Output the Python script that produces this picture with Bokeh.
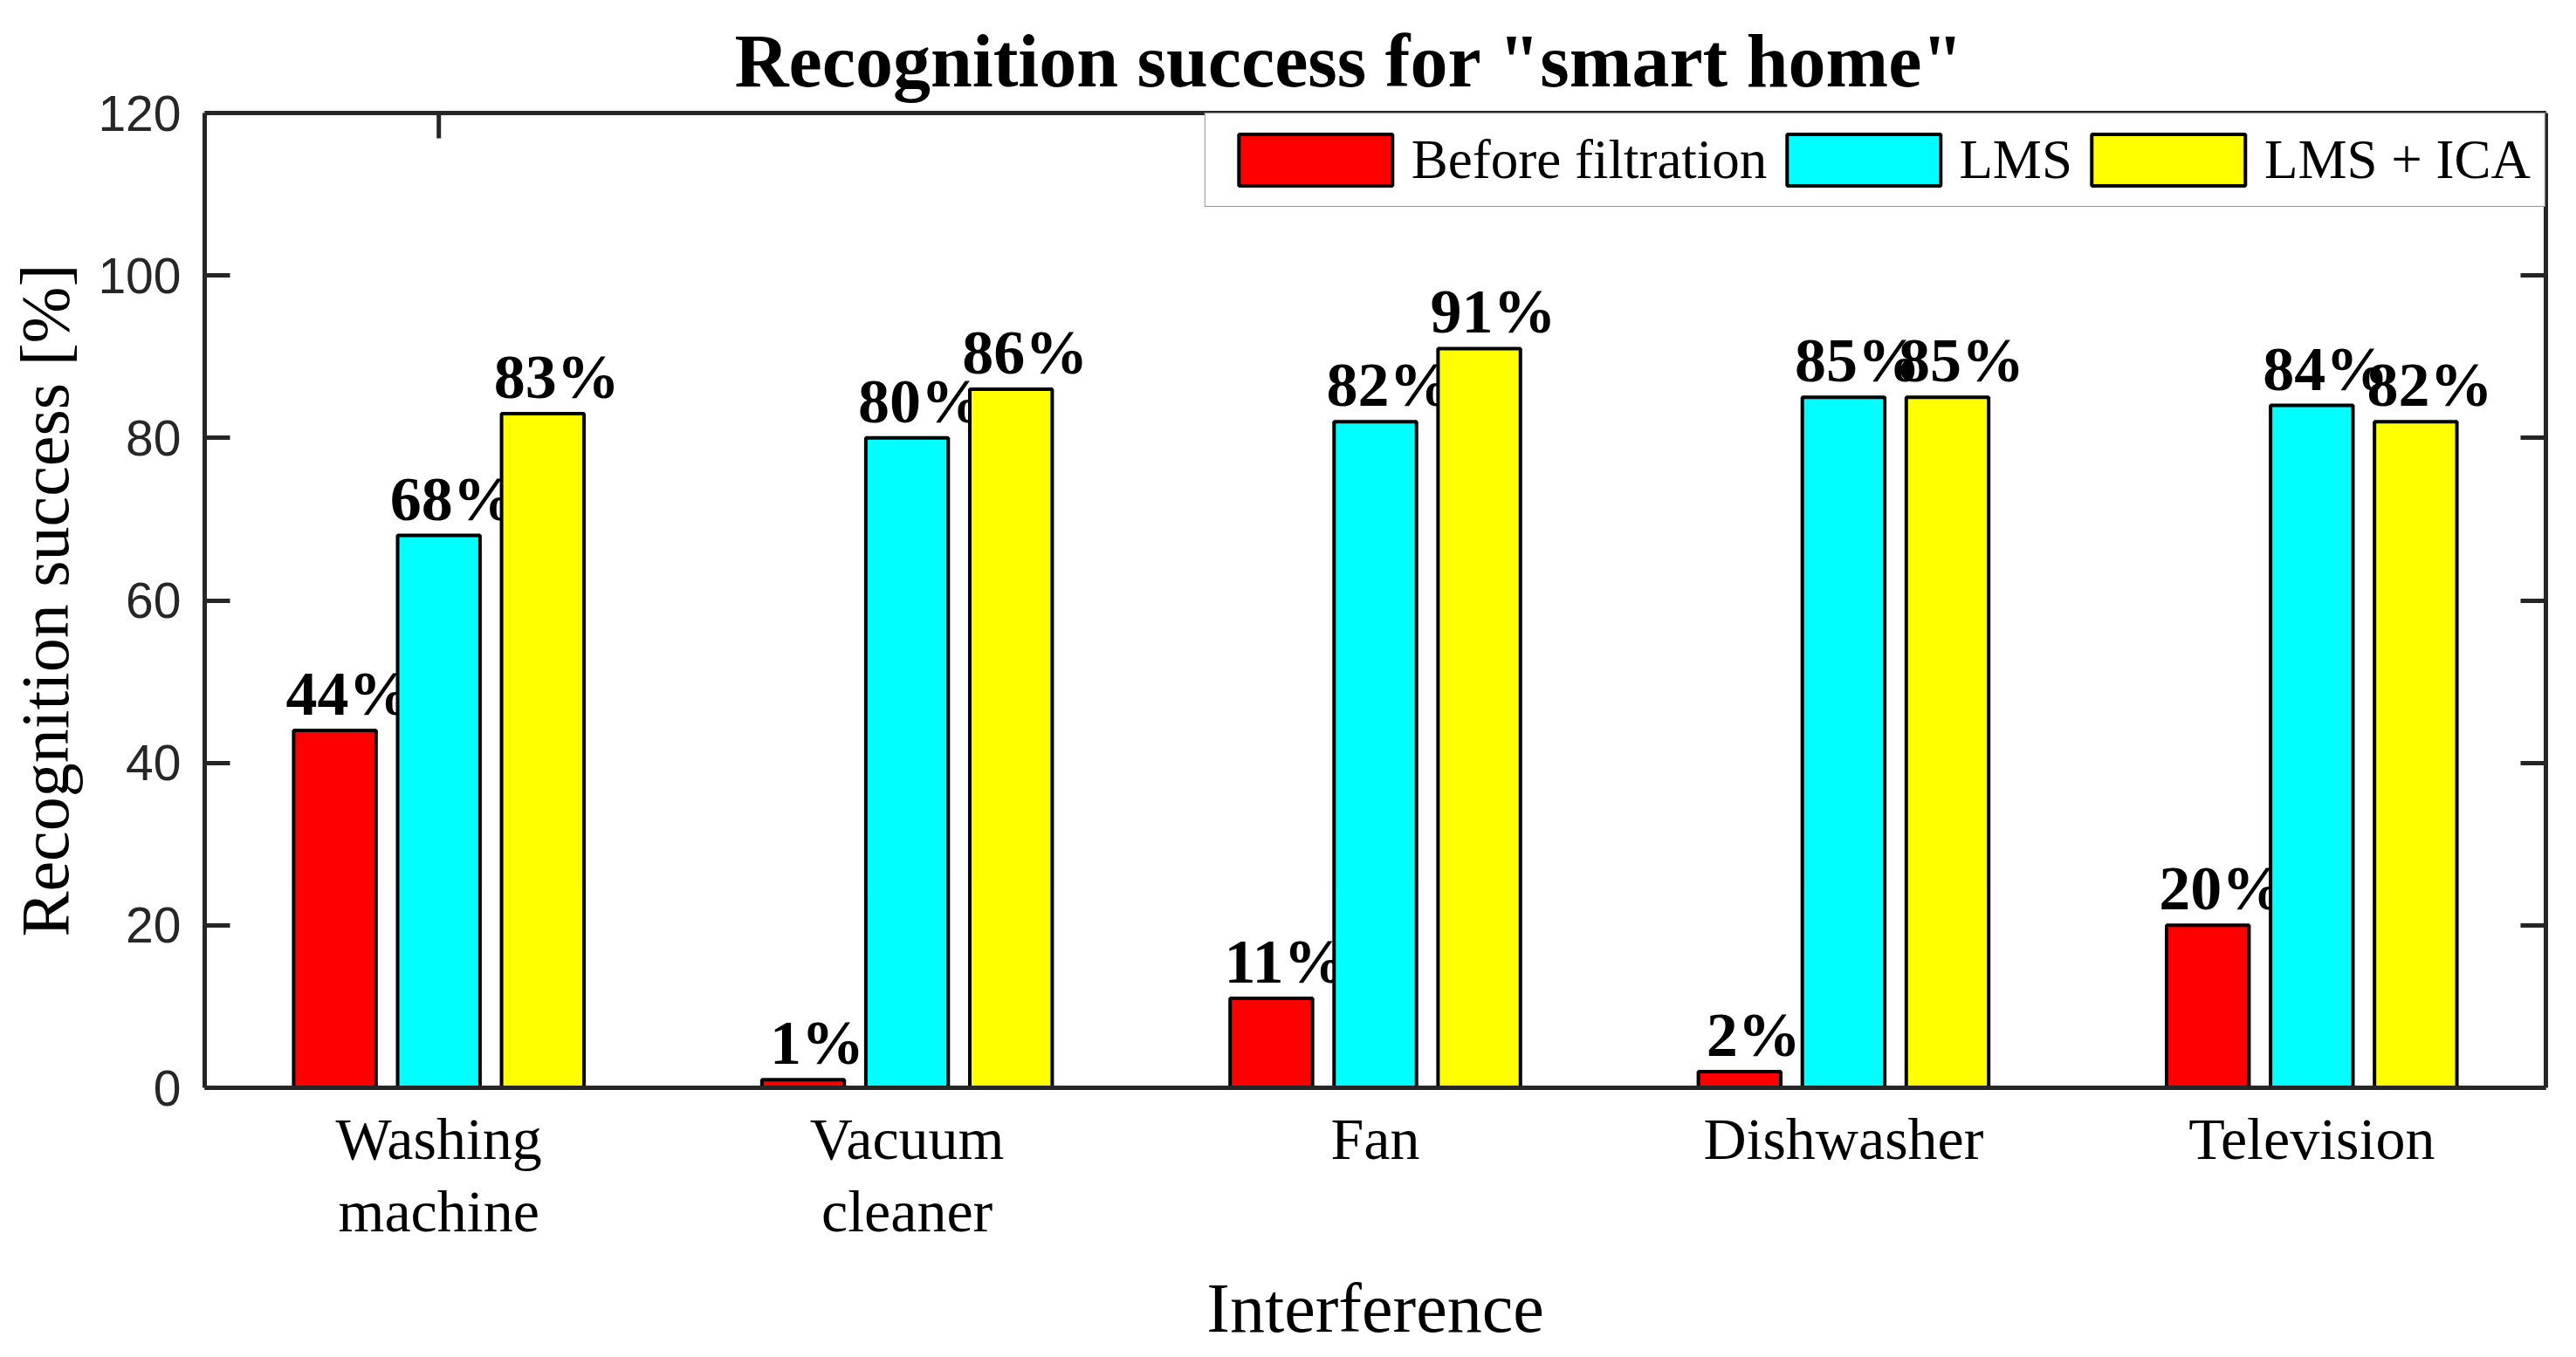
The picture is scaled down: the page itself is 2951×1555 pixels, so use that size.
from bokeh.plotting import figure
from bokeh.models import (ColumnDataSource, FactorRange, Range1d, FixedTicker,
                          LinearAxis, CategoricalAxis, Legend, LegendItem,
                          CustomLabelingPolicy)
from bokeh.transform import dodge
from bokeh.core.properties import value
from bokeh.embed import file_html
from bokeh.resources import INLINE

# ---- data ----
categories = ["Washing\nmachine", "Vacuum\ncleaner", "Fan", "Dishwasher", "Television"]
series_names = ["Before filtration", "LMS", "LMS + ICA"]
before_filtration = [44, 1, 11, 2, 20]
lms = [68, 80, 82, 85, 84]
lms_ica = [83, 86, 91, 85, 82]
y_ticks = [0, 20, 40, 60, 80, 100, 120]
top_tick_categories = [categories[0]]   # categories carrying a tick on the top edge
series_colors = ["#FF0000", "#00FFFF", "#FFFF00"]

series_values = [before_filtration, lms, lms_ica]
offsets = [-0.222, 0.0, 0.222]
bar_width = 0.176

data = dict(cat=categories)
for i, vals in enumerate(series_values):
    data[f"v{i}"] = vals
    data[f"l{i}"] = [f"{v}%" for v in vals]
source = ColumnDataSource(data)

AX = "#262626"
FRAME_H = 1117
TICK_PX = 29
y_min, y_max = y_ticks[0], y_ticks[-1]

p = figure(width=2935, height=1550,
           x_range=FactorRange(factors=categories, range_padding=0),
           y_range=Range1d(y_min, y_max),
           output_backend="svg", toolbar_location=None,
           min_border_left=234, min_border_right=19,
           min_border_top=129, min_border_bottom=304,
           title='Recognition success for "smart home"')
p.outline_line_color = None
p.background_fill_color = "white"
p.border_fill_color = "white"
p.xgrid.visible = False
p.ygrid.visible = False

p.title.align = "left"
p.title.offset = 607
p.title.text_font = "Liberation Serif"
p.title.text_font_style = "bold"
p.title.text_font_size = "86px"
p.title.text_color = "black"
p.title.standoff = 24

renderers = []
for i in range(3):
    r = p.vbar(x=dodge("cat", offsets[i], range=p.x_range), top=f"v{i}", width=bar_width,
               source=source, fill_color=series_colors[i], line_color="black",
               line_width=4)
    renderers.append(r)
    p.text(x=dodge("cat", offsets[i], range=p.x_range), y=f"v{i}", text=f"l{i}",
           source=source, text_font=value("Liberation Serif"), text_font_style="bold",
           text_font_size="72px", text_align="center", text_baseline="alphabetic",
           x_offset=16, y_offset=-42, text_color="black")

# inward tick on the top edge
tick_len = TICK_PX * (y_max - y_min) / FRAME_H
p.segment(x0=top_tick_categories, x1=top_tick_categories,
          y0=[y_max] * len(top_tick_categories),
          y1=[y_max - tick_len] * len(top_tick_categories),
          line_color=AX, line_width=5, line_cap="butt")

no_labels = CustomLabelingPolicy(code="for (const i of indices) { indices.unset(i) }\nreturn indices")

# bottom axis
xa = p.xaxis[0]
xa.axis_label = "Interference"
xa.axis_label_text_font = "Liberation Serif"
xa.axis_label_text_font_style = "normal"
xa.axis_label_text_font_size = "80px"
xa.axis_label_text_color = "black"
xa.axis_label_standoff = 26
xa.major_label_text_font = "Liberation Serif"
xa.major_label_text_font_size = "68px"
xa.major_label_text_line_height = 1.1
xa.major_label_text_color = "black"
xa.major_label_standoff = 20
xa.major_tick_in = 0
xa.major_tick_out = 0
xa.axis_line_color = AX
xa.axis_line_width = 5

# left axis
ya = p.yaxis[0]
ya.ticker = FixedTicker(ticks=y_ticks)
ya.axis_label = "Recognition success [%]"
ya.axis_label_text_font = "Liberation Serif"
ya.axis_label_text_font_style = "normal"
ya.axis_label_text_font_size = "78px"
ya.axis_label_text_color = "black"
ya.axis_label_standoff = 14
ya.major_label_text_font = "Liberation Sans"
ya.major_label_text_font_size = "57px"
ya.major_label_text_color = AX
ya.major_label_standoff = 27
ya.major_tick_in = 29
ya.major_tick_out = 0
ya.major_tick_line_width = 5
ya.major_tick_line_color = AX
ya.minor_tick_line_color = None
ya.axis_line_color = AX
ya.axis_line_width = 5

# right axis (ticks only)
ra = LinearAxis(ticker=FixedTicker(ticks=y_ticks))
ra.major_label_text_font_size = "0px"
ra.major_label_policy = no_labels
ra.major_tick_in = 29
ra.major_tick_out = 0
ra.major_tick_line_width = 5
ra.major_tick_line_color = AX
ra.minor_tick_line_color = None
ra.axis_line_color = AX
ra.axis_line_width = 5
ra.major_label_standoff = 0
p.add_layout(ra, "right")

# top edge line: categorical axis with no ticks and no labels
ta = CategoricalAxis()
ta.major_label_text_font_size = "0px"
ta.major_label_policy = no_labels
ta.major_tick_line_color = None
ta.major_tick_in = 0
ta.major_tick_out = 0
ta.axis_line_color = AX
ta.axis_line_width = 5
ta.major_label_standoff = 0
p.add_layout(ta, "above")

legend = Legend(items=[LegendItem(label=series_names[i], renderers=[renderers[i]]) for i in range(3)],
                orientation="horizontal", location="top_right")
legend.margin = 0
legend.padding = 16
legend.spacing = 0
legend.label_standoff = 0
legend.glyph_width = 220
legend.glyph_height = 74
legend.label_text_font = "Liberation Serif"
legend.label_text_font_size = "63px"
legend.label_text_color = "black"
legend.border_line_color = AX
legend.border_line_width = 1.5
legend.background_fill_color = "white"
legend.background_fill_alpha = 1.0
p.add_layout(legend, "center")

open("out.html", "w").write(file_html(p, INLINE))
